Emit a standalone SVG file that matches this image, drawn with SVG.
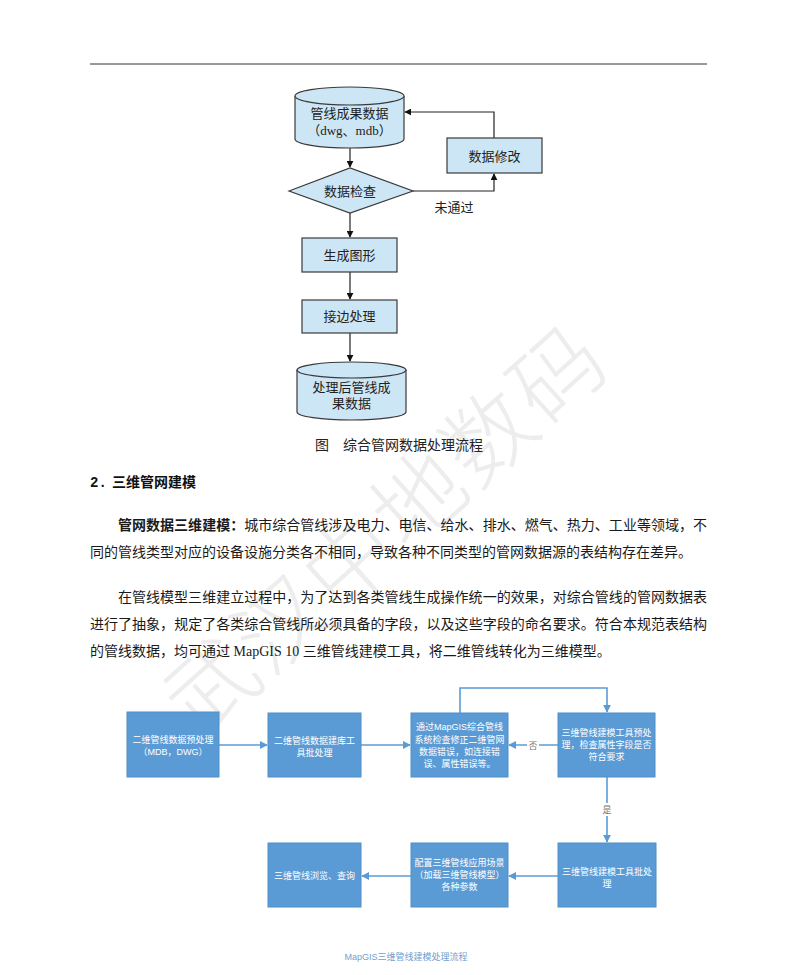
<svg xmlns="http://www.w3.org/2000/svg" width="793" height="975" viewBox="0 0 793 975">
<style>
.t{font-family:"Liberation Sans","Noto Sans CJK SC",sans-serif;}
.s{font-family:"Liberation Serif","Noto Sans CJK SC",serif;}
.n1{fill:#cde6f5;stroke:#3a3a3a;stroke-width:1.2;}
.k{stroke:#222;stroke-width:1.2;fill:none;}
.b{fill:#5b9bd5;stroke:#4f8fca;stroke-width:1;}
.bl{stroke:#5b9bd5;stroke-width:1.6;fill:none;}
.wt{font-family:"Liberation Sans","Noto Sans CJK SC",sans-serif;font-size:9px;fill:#fff;text-anchor:middle;}
.ft{font-size:13px;fill:#222;text-anchor:middle;}
.p{font-size:14px;fill:#1a1a1a;}
</style>
<defs>
<marker id="ak" viewBox="0 0 10 10" refX="9" refY="5" markerWidth="7" markerHeight="7" orient="auto" markerUnits="userSpaceOnUse"><path d="M0,0 L10,5 L0,10 z" fill="#111"/></marker>
<marker id="ab" viewBox="0 0 10 10" refX="9" refY="5" markerWidth="8" markerHeight="8" orient="auto" markerUnits="userSpaceOnUse"><path d="M0,0 L10,5 L0,10 z" fill="#5b9bd5"/></marker>
</defs>
<rect width="793" height="975" fill="#fff"/>
<!-- watermark -->
<g id="watermark" opacity="0.45">
<text class="t" x="0" y="0" transform="translate(200,740) rotate(-42)" font-size="90" fill="#d8d8d8" font-weight="300" letter-spacing="3">武汉中地数码</text>
</g>
<line x1="90" y1="64" x2="707" y2="64" stroke="#333" stroke-width="1"/>

<!-- top flowchart connectors -->
<g id="connectors-top">
<path class="k" d="M350,148 V167" marker-end="url(#ak)"/>
<path class="k" d="M350,213 V237" marker-end="url(#ak)"/>
<path class="k" d="M350,272 V299" marker-end="url(#ak)"/>
<path class="k" d="M350,333 V361" marker-end="url(#ak)"/>
<path class="k" d="M413,191 H494 V174" marker-end="url(#ak)"/>
<path class="k" d="M494,138 V112 H405" marker-end="url(#ak)"/>
<text class="t ft" x="454" y="212">未通过</text>
</g>

<g id="node-cyl1">
<path class="n1" d="M295,96 V139 A54.5,9 0 0 0 404,139 V96"/>
<ellipse class="n1" cx="349.5" cy="96" rx="54.5" ry="9"/>
<text class="t ft" x="349.5" y="118">管线成果数据</text>
<text class="s ft" x="349.5" y="135">（dwg、mdb）</text>
</g>
<g id="node-check">
<polygon class="n1" points="289,191 350,168 413,191 350,213"/>
<text class="t ft" x="350" y="196">数据检查</text>
</g>
<g id="node-modify">
<rect class="n1" x="447" y="138" width="95" height="35"/>
<text class="t ft" x="494.5" y="161">数据修改</text>
</g>
<g id="node-graph">
<rect class="n1" x="302" y="238" width="95" height="34"/>
<text class="t ft" x="349.5" y="260">生成图形</text>
</g>
<g id="node-edge">
<rect class="n1" x="302" y="300" width="95" height="33"/>
<text class="t ft" x="349.5" y="321">接边处理</text>
</g>
<g id="node-cyl2">
<path class="n1" d="M297,370 V412 A54.5,8 0 0 0 406,412 V370"/>
<ellipse class="n1" cx="351.5" cy="370" rx="54.5" ry="8"/>
<text class="t ft" x="351.5" y="392">处理后管线成</text>
<text class="t ft" x="351.5" y="408">果数据</text>
</g>

<text class="s" x="315" y="450" font-size="14" fill="#222">图</text>
<text class="s" x="343" y="450" font-size="14" fill="#222">综合管网数据处理流程</text>

<!-- body text -->
<text x="90" y="487" font-family="Liberation Mono, monospace" font-size="14" font-weight="bold" fill="#111">2.</text>
<text class="t" x="112" y="487" font-size="14" font-weight="bold" fill="#111">三维管网建模</text>

<text class="p s" x="118" y="530" textLength="589" lengthAdjust="spacing"><tspan font-weight="bold" class="t">管网数据三维建模：</tspan>城市综合管线涉及电力、电信、给水、排水、燃气、热力、工业等领域，不</text>
<text class="p s" x="90" y="557">同的管线类型对应的设备设施分类各不相同，导致各种不同类型的管网数据源的表结构存在差异。</text>
<text class="p s" x="118" y="602" textLength="589" lengthAdjust="spacing">在管线模型三维建立过程中，为了达到各类管线生成操作统一的效果，对综合管线的管网数据表</text>
<text class="p s" x="90" y="629" textLength="617" lengthAdjust="spacing">进行了抽象，规定了各类综合管线所必须具备的字段，以及这些字段的命名要求。符合本规范表结构</text>
<text class="p s" x="90" y="656">的管线数据，均可通过 MapGIS 10 三维管线建模工具，将二维管线转化为三维模型。</text>

<!-- bottom flowchart connectors -->
<g id="connectors-bottom">
<path class="bl" d="M219,745 H267" marker-end="url(#ab)"/>
<path class="bl" d="M361,745 H410" marker-end="url(#ab)"/>
<path class="bl" d="M558,745 H509" marker-end="url(#ab)"/>
<path class="bl" d="M460,713 V688 H607 V712" marker-end="url(#ab)"/>
<path class="bl" d="M607,777 V842" marker-end="url(#ab)"/>
<path class="bl" d="M558,876 H509" marker-end="url(#ab)"/>
<path class="bl" d="M411,876 H362" marker-end="url(#ab)"/>
<rect x="527" y="739" width="12" height="12" fill="#fff"/>
<text class="t" x="533" y="748.5" font-size="9" fill="#777" text-anchor="middle">否</text>
<rect x="601" y="803" width="12" height="13" fill="#fff"/>
<text class="t" x="607" y="813" font-size="9" fill="#777" text-anchor="middle">是</text>
</g>

<g id="node-a">
<rect class="b" x="127" y="712" width="92" height="65"/>
<text class="wt" x="173" y="743">二维管线数据预处理</text>
<text class="wt" x="173" y="755">（MDB，DWG）</text>
</g>
<g id="node-b">
<rect class="b" x="268" y="713" width="93" height="64"/>
<text class="wt" x="314.5" y="744">二维管线数据建库工</text>
<text class="wt" x="314.5" y="756">具批处理</text>
</g>
<g id="node-c">
<rect class="b" x="411" y="713" width="97" height="64"/>
<text class="wt" x="459.5" y="730">通过MapGIS综合管线</text>
<text class="wt" x="459.5" y="743">系统检查修正二维管网</text>
<text class="wt" x="459.5" y="755">数据错误，如连接错</text>
<text class="wt" x="459.5" y="767">误、属性错误等。</text>
</g>
<g id="node-d">
<rect class="b" x="558" y="713" width="97" height="64"/>
<text class="wt" x="606.5" y="736">三维管线建模工具预处</text>
<text class="wt" x="606.5" y="748">理，检查属性字段是否</text>
<text class="wt" x="606.5" y="760">符合要求</text>
</g>
<g id="node-e">
<rect class="b" x="558" y="843" width="98" height="64"/>
<text class="wt" x="607" y="875">三维管线建模工具批处</text>
<text class="wt" x="607" y="887">理</text>
</g>
<g id="node-f">
<rect class="b" x="411" y="843" width="97" height="64"/>
<text class="wt" x="459.5" y="866">配置三维管线应用场景</text>
<text class="wt" x="459.5" y="878">（加载三维管线模型）</text>
<text class="wt" x="459.5" y="890">各种参数</text>
</g>
<g id="node-g">
<rect class="b" x="268" y="843" width="93" height="64"/>
<text class="wt" x="314.5" y="879">三维管线浏览、查询</text>
</g>

<text class="t" x="406" y="960" font-size="9" fill="#6f9fcf" text-anchor="middle">MapGIS三维管线建模处理流程</text>
</svg>
